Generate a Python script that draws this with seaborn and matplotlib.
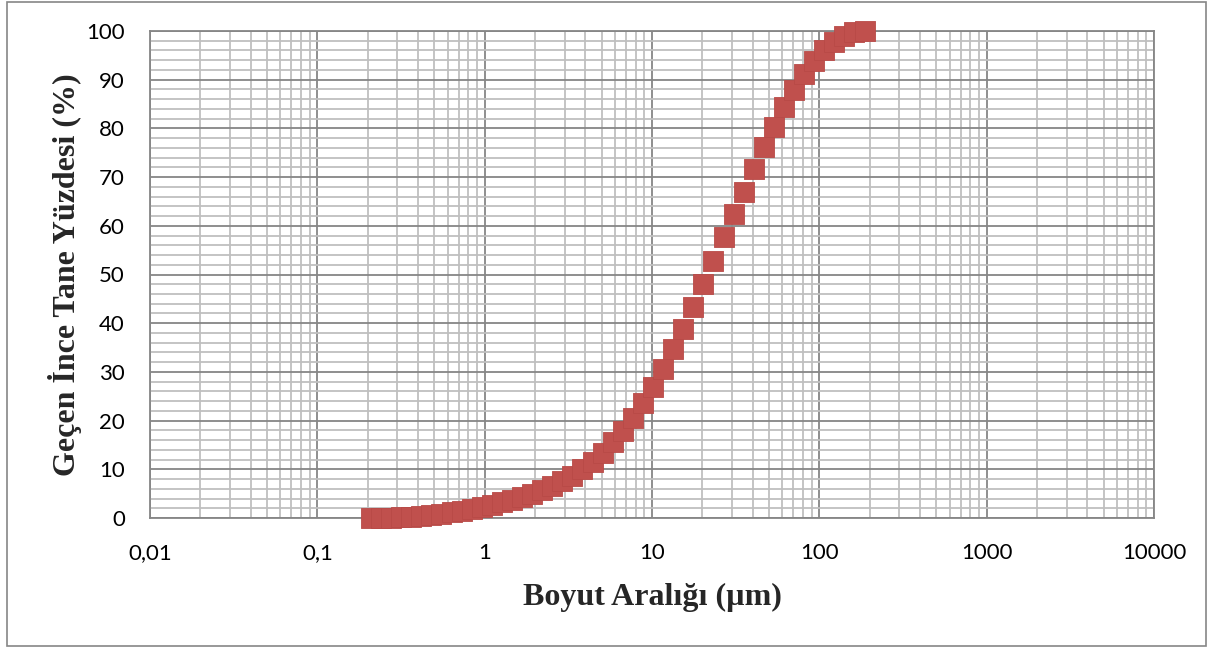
"""Particle size distribution: cumulative passing (%) vs size (log scale)."""

import numpy as np
import matplotlib
matplotlib.use("Agg")
import matplotlib.pyplot as plt
import seaborn as sns
from matplotlib.patches import Rectangle
from matplotlib.ticker import FixedLocator, NullFormatter

# --- data ---
size_um = [
    0.209, 0.240, 0.2758, 0.3168, 0.3639, 0.418, 0.4802, 0.5516, 0.6336, 0.7278,
    0.836, 0.9603, 1.103, 1.267, 1.456, 1.672, 1.921, 2.206, 2.534, 2.911,
    3.344, 3.841, 4.412, 5.068, 5.822, 6.688, 7.682, 8.825, 10.14, 11.64,
    13.38, 15.36, 17.65, 20.27, 23.29, 26.75, 30.73, 35.3, 40.55, 46.58,
    53.5, 61.46, 70.6, 81.1, 93.16, 107.0, 122.9, 141.2, 162.2, 186.3,
]
passing_pct = [
    0.0, 0.05, 0.1, 0.2, 0.3, 0.45, 0.65, 0.9, 1.2, 1.5,
    1.85, 2.25, 2.7, 3.2, 3.75, 4.3, 5.0, 5.7, 6.5, 7.6,
    8.6, 10.0, 11.6, 13.4, 15.6, 17.8, 20.6, 23.7, 26.8, 30.6,
    34.6, 38.9, 43.3, 48.0, 52.8, 57.6, 62.4, 67.0, 71.7, 76.1,
    80.2, 84.3, 87.9, 91.2, 93.9, 96.1, 97.8, 99.0, 99.7, 100.0,
]
x_ticks = [0.01, 0.1, 1, 10, 100, 1000, 10000]
x_tick_labels = ["0,01", "0,1", "1", "10", "100", "1000", "10000"]
y_ticks = [0, 10, 20, 30, 40, 50, 60, 70, 80, 90, 100]

x_label = "Boyut Aralığı (µm)"
y_label = "Geçen İnce Tane Yüzdesi (%)"

sns.set_style("white")
plt.rcParams["font.family"] = ["Lato", "DejaVu Sans"]

W, H = 1213, 648
fig = plt.figure(figsize=(W / 100, H / 100), dpi=100)
ax = fig.add_axes([150 / W, 1 - 518 / H, (1154 - 150) / W, (518 - 31) / H])

major_c = "#868686"
minor_c = "#BFBFBF"

ax.set_xscale("log")
ax.set_xlim(0.01, 10000)
ax.set_ylim(0, 100)

# minor grid first, major on top
minor_x = [m * 10.0 ** e for e in range(-2, 4) for m in range(2, 10)]
ax.xaxis.set_minor_locator(FixedLocator(minor_x))
ax.xaxis.set_minor_formatter(NullFormatter())
ax.yaxis.set_minor_locator(FixedLocator([v for v in range(0, 101, 2) if v % 10]))
ax.grid(which="minor", color=minor_c, linewidth=1.3)
ax.grid(which="major", color=major_c, linewidth=1.3)
ax.set_axisbelow(True)

ax.set_xticks(x_ticks)
ax.set_xticklabels(x_tick_labels)
ax.set_yticks(y_ticks)

ax.tick_params(axis="both", which="major", direction="out", length=6,
               width=1.2, color=major_c, labelsize=16, labelcolor="black")
ax.tick_params(axis="x", which="major", pad=12)
ax.tick_params(axis="y", which="major", pad=12)
ax.tick_params(which="minor", length=0)

for sp in ax.spines.values():
    sp.set_color(major_c)
    sp.set_linewidth(1.3)

sns.scatterplot(x=size_um, y=passing_pct, marker="s", s=195,
                color="#C0504D", edgecolor="#B84A47", linewidth=0.6,
                ax=ax, clip_on=False, zorder=5, legend=False)

ax.set_xlabel(x_label, fontsize=23, fontweight="bold",
              family=["Liberation Serif", "DejaVu Serif"], labelpad=14)
ax.set_ylabel(y_label, fontsize=23, fontweight="bold",
              family=["Liberation Serif", "DejaVu Serif"], labelpad=3)

# outer chart border
fig.patches.append(Rectangle((7 / W, 2 / H), (1206 - 7) / W, (646 - 2) / H,
                             transform=fig.transFigure, fill=False,
                             edgecolor=major_c, linewidth=1.2))

fig.savefig("out.png", dpi=100)
